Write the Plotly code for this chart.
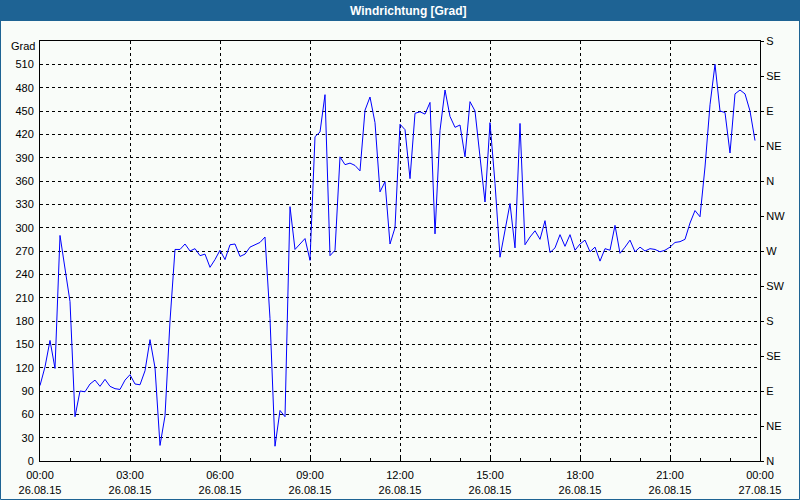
import pandas as pd
import plotly.graph_objects as go

# ---- data ----
start_time = "2015-08-26 00:00"
interval = "10min"
wind_dir = [
    97, 121, 155, 119, 290, 250, 205, 57, 90, 89,
    99, 104, 96, 105, 96, 93, 92, 104, 111, 99,
    98, 116, 156, 120, 20, 58, 180, 272, 272, 279,
    270, 273, 264, 266, 249, 259, 271, 259, 278, 279,
    263, 266, 275, 278, 281, 288, 183, 19, 65, 57,
    327, 272, 279, 286, 258, 417, 423, 471, 264, 271,
    391, 381, 383, 380, 373, 451, 468, 435, 346, 359,
    279, 300, 433, 426, 363, 447, 449, 446, 461, 292,
    425, 477, 443, 429, 432, 391, 462, 450, 391, 333,
    435, 357, 262, 296, 331, 274, 434, 278, 288, 296,
    285, 309, 268, 274, 291, 276, 291, 271, 279, 284,
    269, 275, 257, 273, 271, 303, 267, 275, 284, 269,
    275, 270, 273, 272, 269, 271, 275, 281, 282, 285,
    306, 322, 314, 378, 458, 510, 450, 448, 396, 472,
    477, 472, 450, 412,
]
left_ticks = list(range(0, 540, 30))
right_tickvals = list(range(0, 541, 45))
right_ticktext = ["N", "NE", "E", "SE", "S", "SW", "W", "NW", "N", "NE", "E", "SE", "S"]
title_text = "Windrichtung [Grad]"
unit_text = "Grad"

times = pd.date_range(start_time, periods=len(wind_dir), freq=interval)

# ---- layout constants ----
W, H = 800, 500
L, R, T, B = 40, 40, 41, 39
PW, PH = W - L - R, H - T - B
BG = "#F9FCF9"
BAR = "#1E6394"
FONT = "Liberation Sans, Arial, sans-serif"


def px_x(px):
    return (px - L) / PW


def px_y(py):
    return (H - B - py) / PH


fig = go.Figure()
fig.add_trace(go.Scatter(x=times, y=wind_dir, mode="lines",
                         line=dict(color="#0000FF", width=1), showlegend=False))
# invisible trace for right axis
fig.add_trace(go.Scatter(x=[times[0]], y=[0], yaxis="y2", mode="markers",
                         marker=dict(opacity=0), showlegend=False, hoverinfo="skip"))

fig.update_layout(
    width=W, height=H,
    margin=dict(l=L, r=R, t=T, b=B, pad=0, autoexpand=False),
    paper_bgcolor=BG, plot_bgcolor=BG,
    font=dict(family=FONT, size=11, color="black"),
    xaxis=dict(
        type="date", automargin=False,
        range=["2015-08-26 00:00", "2015-08-27 00:00"],
        tick0="2015-08-26 00:00", dtick=3 * 3600 * 1000,
        tickformat="%H:%M<br>%d.%m.%y",
        showgrid=True, gridcolor="black", gridwidth=1, griddash="dot",
        showline=True, linecolor="black", linewidth=1, mirror=True,
        ticks="inside", ticklen=3, tickcolor="black",
        minor=dict(dtick=3600 * 1000, ticks="inside", ticklen=3,
                   tickcolor="black", showgrid=False),
        zeroline=False, tickfont=dict(size=11),
        ticklabelstandoff=4,
    ),
    yaxis=dict(
        range=[0, 540], tickvals=left_ticks, automargin=False,
        showgrid=True, gridcolor="black", gridwidth=1, griddash="dot",
        showline=True, linecolor="black", linewidth=1,
        ticks="", zeroline=False, tickfont=dict(size=11),
        ticklabelstandoff=3,
    ),
    yaxis2=dict(
        range=[0, 540], overlaying="y", side="right", automargin=False,
        tickvals=right_tickvals, ticktext=right_ticktext,
        showgrid=False, showline=True, linecolor="black", linewidth=1,
        ticks="outside", ticklen=3, tickcolor="black",
        zeroline=False, tickfont=dict(size=11),
    ),
    shapes=[
        dict(type="rect", xref="paper", yref="paper",
             x0=px_x(0), x1=px_x(W), y0=px_y(21), y1=px_y(0),
             fillcolor=BAR, line=dict(width=0), layer="above"),
        dict(type="rect", xref="paper", yref="paper",
             x0=px_x(0.5), x1=px_x(W - 0.5), y0=px_y(H - 0.5), y1=px_y(0.5),
             fillcolor="rgba(0,0,0,0)", line=dict(color=BAR, width=1), layer="above"),
    ],
    annotations=[
        dict(text="<b>" + title_text + "</b>", xref="paper", yref="paper",
             x=px_x(409), y=px_y(10.5), xanchor="center", yanchor="middle",
             showarrow=False, font=dict(color="white", size=12, family=FONT)),
        dict(text=unit_text, xref="paper", yref="paper",
             x=px_x(37), y=px_y(46), xanchor="right", yanchor="middle",
             showarrow=False, font=dict(color="black", size=11, family=FONT)),
    ],
)

fig.write_html("out.html", config={"displayModeBar": False},
               post_script="document.body.style.margin='0px';document.body.style.padding='0px';")
